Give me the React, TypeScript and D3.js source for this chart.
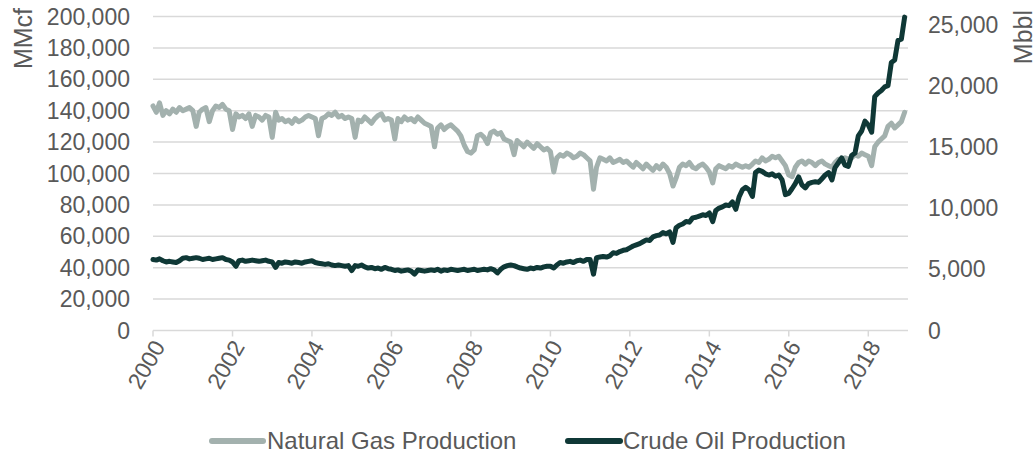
import React from "react";
import * as d3 from "d3";

// Monthly values, Jan 2000 .. Dec 2018
const startYear = 2000;
const endYear = 2019;

// Natural gas production (MMcf), left axis
const gas: number[] = [
  // 2000
  143000, 139000, 145000, 137000, 140000, 138000, 141000, 139000, 142000, 140000, 141000, 142000,
  // 2001
  140000, 130000, 139000, 141000, 142000, 133000, 140000, 143000, 142000, 144000, 141000, 140000,
  // 2002
  128000, 138000, 136000, 137000, 135000, 138000, 130000, 137000, 136000, 134000, 137000, 136000,
  // 2003
  123000, 139000, 134000, 135000, 133000, 134000, 132000, 135000, 133000, 134000, 136000, 137000,
  // 2004
  136000, 135000, 124000, 135000, 136000, 138000, 137000, 139000, 136000, 137000, 135000, 136000,
  // 2005
  135000, 123000, 134000, 133000, 136000, 134000, 132000, 135000, 137000, 138000, 134000, 135000,
  // 2006
  134000, 122000, 135000, 133000, 136000, 134000, 135000, 133000, 136000, 134000, 132000, 131000,
  // 2007
  130000, 117000, 129000, 131000, 128000, 130000, 131000, 129000, 127000, 124000, 118000, 114000,
  // 2008
  113000, 115000, 124000, 125000, 123000, 119000, 126000, 127000, 125000, 126000, 122000, 121000,
  // 2009
  120000, 112000, 121000, 119000, 117000, 120000, 118000, 116000, 119000, 117000, 115000, 116000,
  // 2010
  114000, 101000, 110000, 112000, 111000, 113000, 112000, 110000, 111000, 113000, 112000, 110000,
  // 2011
  108000, 90000, 104000, 110000, 109000, 108000, 110000, 107000, 108000, 109000, 107000, 108000,
  // 2012
  106000, 104000, 107000, 105000, 103000, 106000, 104000, 102000, 105000, 103000, 106000, 104000,
  // 2013
  100000, 92000, 97000, 104000, 106000, 105000, 107000, 104000, 103000, 105000, 106000, 104000,
  // 2014
  101000, 94000, 103000, 105000, 104000, 103000, 105000, 104000, 106000, 105000, 104000, 105000,
  // 2015
  104000, 106000, 108000, 107000, 110000, 108000, 109000, 111000, 110000, 111000, 108000, 105000,
  // 2016
  99000, 98000, 104000, 107000, 108000, 106000, 108000, 107000, 105000, 107000, 108000, 106000,
  // 2017
  105000, 104000, 107000, 109000, 108000, 110000, 109000, 110000, 112000, 111000, 113000, 112000,
  // 2018
  111000, 105000, 117000, 120000, 122000, 124000, 130000, 132000, 129000, 131000, 133000, 139000,
];

// Crude oil production (Mbbl), right axis
const oil: number[] = [
  // 2000
  5800, 5750, 5850, 5700, 5600, 5650, 5600, 5550, 5700, 5900, 5950, 5850,
  // 2001
  5900, 5950, 5900, 5800, 5850, 5900, 5800, 5850, 5900, 5950, 5800, 5750,
  // 2002
  5600, 5250, 5700, 5750, 5650, 5700, 5750, 5700, 5650, 5700, 5750, 5650,
  // 2003
  5600, 5150, 5550, 5500, 5600, 5550, 5500, 5600, 5550, 5500, 5600, 5650,
  // 2004
  5700, 5550, 5500, 5450, 5400, 5450, 5350, 5300, 5350, 5300, 5250, 5300,
  // 2005
  4900, 5300, 5250, 5350, 5200, 5100, 5150, 5050, 5100, 5000, 5150, 5050,
  // 2006
  5000, 4900, 4950, 4850, 4900, 4950, 4850, 4600, 4950, 4900, 4850, 4900,
  // 2007
  4950, 4900, 5000, 4850, 4950, 4900, 5000, 4950, 4900, 4950, 5000, 4900,
  // 2008
  4950, 5000, 4900, 4950, 5000, 4950, 5050, 4950, 4700, 5000, 5200, 5300,
  // 2009
  5350, 5300, 5200, 5100, 5050, 5000, 5100, 5050, 5150, 5100, 5200, 5250,
  // 2010
  5250, 5100, 5350, 5550, 5500, 5600, 5650, 5550, 5700, 5750, 5650, 5800,
  // 2011
  5800, 4600, 5950, 6000, 6050, 6000, 6100, 6350, 6300, 6450, 6550, 6600,
  // 2012
  6750, 6900, 7000, 7100, 7250, 7400, 7350, 7650, 7750, 7800, 8000, 7900,
  // 2013
  8050, 7200, 8400, 8600, 8700, 8900, 8850, 9200, 9250, 9350, 9450, 9400,
  // 2014
  9600, 8900, 9800, 10000, 10100, 10250, 10200, 10500, 9900, 10900, 11500, 11700,
  // 2015
  11500, 10950, 12900, 13100, 13000, 12800, 12700, 12800, 12600, 12700, 12300, 11100,
  // 2016
  11200, 11600, 12000, 12550, 11900, 11650, 12000, 12100, 12150, 12100, 12400, 12700,
  // 2017
  12900, 12300, 13300, 13700, 14100, 13500, 13400, 14300, 14500, 15900, 16300, 17100,
  // 2018
  16800, 16200, 19100, 19400, 19600, 19900, 20000, 21900, 22100, 23700, 23800, 25600,
];

const leftTicks = [0, 20000, 40000, 60000, 80000, 100000, 120000, 140000, 160000, 180000, 200000];
const rightTicks = [0, 5000, 10000, 15000, 20000, 25000];
const xTickYears = [2000, 2002, 2004, 2006, 2008, 2010, 2012, 2014, 2016, 2018];

const leftTitle = "MMcf";
const rightTitle = "Mbbl";
const gasName = "Natural Gas Production";
const oilName = "Crude Oil Production";

const GAS_COLOR = "#a3b1ae";
const OIL_COLOR = "#0f3836";
const GRID = "#d9d9d9";
const TEXT = "#595959";
const FONT = "'Liberation Sans', Arial, sans-serif";

export default function App() {
  const W = 1036;
  const H = 453;
  const plotLeft = 153;
  const plotRight = 908;
  const plotTop = 16.5;
  const plotBottom = 330.5;

  const x = d3
    .scaleTime()
    .domain([new Date(startYear, 0, 1), new Date(endYear, 0, 1)])
    .range([plotLeft, plotRight]);
  const yL = d3.scaleLinear().domain([0, 200000]).range([plotBottom, plotTop]);
  const yR = d3.scaleLinear().domain([0, 25650]).range([plotBottom, plotTop]);

  const dateOf = (i: number) => new Date(startYear, i, 1);

  const gasLine = d3
    .line<number>()
    .x((_, i) => x(dateOf(i)))
    .y((d) => yL(d));
  const oilLine = d3
    .line<number>()
    .x((_, i) => x(dateOf(i)))
    .y((d) => yR(d));

  return (
    <svg
      width={W}
      height={H}
      style={{ position: "absolute", left: 0, top: 0, background: "#fff" }}
      fontFamily={FONT}
    >
      {leftTicks.map((t) => (
        <line
          key={"g" + t}
          x1={plotLeft}
          x2={plotRight}
          y1={yL(t)}
          y2={yL(t)}
          stroke={GRID}
          strokeWidth={1.5}
        />
      ))}
      {xTickYears.map((yr) => (
        <line
          key={"xt" + yr}
          x1={x(new Date(yr, 0, 1))}
          x2={x(new Date(yr, 0, 1))}
          y1={plotBottom}
          y2={plotBottom + 6}
          stroke={GRID}
          strokeWidth={1.5}
        />
      ))}
      {leftTicks.map((t) => (
        <text
          key={"l" + t}
          x={130}
          y={yL(t)}
          dy="0.35em"
          textAnchor="end"
          fontSize={23}
          fill={TEXT}
        >
          {d3.format(",")(t)}
        </text>
      ))}
      {rightTicks.map((t) => (
        <text
          key={"r" + t}
          x={928}
          y={yR(t)}
          dy="0.35em"
          textAnchor="start"
          fontSize={23}
          fill={TEXT}
        >
          {d3.format(",")(t)}
        </text>
      ))}
      {xTickYears.map((yr) => {
        const px = x(new Date(yr, 0, 1));
        return (
          <text
            key={"xl" + yr}
            transform={`translate(${px + 6},${plotBottom + 12}) rotate(-60)`}
            textAnchor="end"
            dy="0.35em"
            fontSize={23}
            fill={TEXT}
          >
            {yr}
          </text>
        );
      })}
      <text
        transform={`translate(32,8) rotate(-90)`}
        textAnchor="end"
        fontSize={25}
        fill={TEXT}
      >
        {leftTitle}
      </text>
      <text
        transform={`translate(1032,10) rotate(-90)`}
        textAnchor="end"
        fontSize={25}
        fill={TEXT}
      >
        {rightTitle}
      </text>
      <path
        d={gasLine(gas) || ""}
        fill="none"
        stroke={GAS_COLOR}
        strokeWidth={5}
        strokeLinejoin="round"
        strokeLinecap="round"
      />
      <path
        d={oilLine(oil) || ""}
        fill="none"
        stroke={OIL_COLOR}
        strokeWidth={5}
        strokeLinejoin="round"
        strokeLinecap="round"
      />
      <line x1={212} x2={263} y1={441} y2={441} stroke={GAS_COLOR} strokeWidth={6} strokeLinecap="round" />
      <text x={267} y={441} dy="0.35em" fontSize={24} fill={TEXT}>
        {gasName}
      </text>
      <line x1={568} x2={620} y1={441} y2={441} stroke={OIL_COLOR} strokeWidth={6} strokeLinecap="round" />
      <text x={623} y={441} dy="0.35em" fontSize={24} fill={TEXT}>
        {oilName}
      </text>
    </svg>
  );
}
